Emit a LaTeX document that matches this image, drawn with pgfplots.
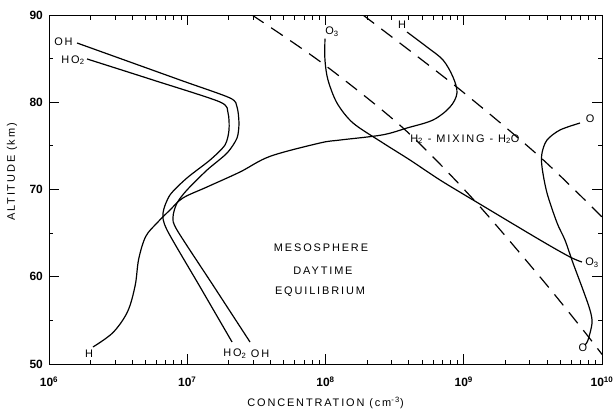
\documentclass[border=0pt]{standalone}
\usepackage{fontspec}
\setmainfont{Liberation Sans}
\newfontfamily\lsfont[LetterSpace=17]{Liberation Sans}
\usepackage{pgfplots}
\pgfplotsset{compat=1.18}
\newcommand{\lab}[1]{{\lsfont\fontsize{11}{13}\selectfont #1}}
\begin{document}
\begin{tikzpicture}
\useasboundingbox (-49bp,-46bp) rectangle (564bp,364bp);
\begin{axis}[
  at={(0,0)}, anchor=south west,
  scale only axis, width=553bp, height=349bp,
  xmode=log, xmin=1e6, xmax=1e10, ymin=50, ymax=90,
  xtick={1e6,1e7,1e8,1e9,1e10},
  xticklabels={10\textsuperscript{6},10\textsuperscript{7},10\textsuperscript{8},10\textsuperscript{9},10\textsuperscript{10}},
  ytick={50,60,70,80,90}, minor ytick={55,65,75,85},
  yticklabels={50,60,70,80,90},
  tick align=inside,
  major tick length=10bp, minor tick length=4.5bp,
  axis line style={line width=0.9pt},
  every tick/.style={black, line width=0.8pt},
  x tick label style={anchor=center, yshift=-18bp, font=\fontsize{12}{14}\selectfont\bfseries},
  y tick label style={anchor=east, inner sep=0pt, xshift=-6bp, font=\fontsize{12}{14}\selectfont\bfseries},
  xlabel={\lab{CONCENTRATION (cm\textsuperscript{-3})}},
  ylabel={\lab{ALTITUDE (km)}},
  xlabel style={at={(axis description cs:0.5,-0.112)}, anchor=center},
  ylabel style={at={(axis description cs:-0.067,0.55)}, anchor=center},
  clip=true,
]
% OH
\addplot[black, line width=1.2bp, smooth, tension=0.45] coordinates {
(1.596e6,86.79) (8.87e6,82.55) (2.037e7,80.49) (2.291e7,79.46) (2.366e7,77.62)
(2.291e7,75.90) (1.941e7,74.18) (1.390e7,72.23) (9.95e6,69.94) (8.43e6,68.45)
(7.89e6,66.85) (8.43e6,65.36) (1.549e7,58.94) (2.844e7,52.52)};
% HO2
\addplot[black, line width=1.2bp, smooth, tension=0.45] coordinates {
(1.884e6,84.96) (5.649e6,82.55) (1.726e7,80.03) (1.972e7,78.77) (2.004e7,76.82)
(1.875e7,75.10) (1.462e7,73.38) (9.95e6,71.32) (7.50e6,69.37) (6.68e6,67.31)
(7.14e6,65.36) (1.227e7,58.94) (2.109e7,52.52)};
% H
\addplot[black, line width=1.2bp, smooth, tension=0.55] coordinates {
(2.080e6,51.95) (2.90e6,53.6) (3.70e6,56.0) (4.20e6,59.0) (4.45e6,62.0)
(5.00e6,64.6) (6.039e6,66.16) (7.499e6,67.65) (9.311e6,69.03) (1.390e7,70.29)
(2.410e7,72.01) (3.972e7,73.80) (9.12e7,75.33) (1.274e8,75.67) (2.564e8,76.25)
(3.890e8,77.05) (5.998e8,77.97) (7.962e8,79.46) (8.93e8,81.06) (8.356e8,82.89)
(7.079e8,84.84) (5.420e8,86.33) (3.890e8,88.05)};
% O3
\addplot[black, line width=1.2bp, smooth, tension=0.5] coordinates {
(9.91e7,87.3) (9.91e7,84.84) (1.042e8,82.55) (1.211e8,79.91) (1.581e8,77.62)
(2.606e8,75.33) (4.083e8,73.38) (6.730e8,71.09) (1.167e9,68.80) (3.565e9,64.21)
(5.875e9,62.26) (7.161e9,61.69)};
% O
\addplot[black, line width=1.2bp, smooth, tension=0.5] coordinates {
(6.934e9,77.62) (4.966e9,76.82) (4.000e9,75.67) (3.681e9,74.18) (3.681e9,72.58)
(4.000e9,69.60) (4.732e9,66.16) (5.395e9,64.21) (6.166e9,61.58) (7.295e9,58.48)
(8.185e9,56.19) (8.472e9,54.70) (7.925e9,52.75) (7.534e9,52.18)};
% H2 mixing (dashed)
\addplot[black, line width=1.2bp, dash pattern=on 14bp off 9bp, smooth, tension=0.5] coordinates {
(2.938e7,90) (9.44e7,84.50) (3.639e8,77.05) (1.167e9,68.91) (3.565e9,59.97)
(7.295e9,53.90) (1e10,51.1)};
% H2O mixing (dashed)
\addplot[black, line width=1.2bp, dash pattern=on 14bp off 9bp, smooth, tension=0.5] coordinates {
(1.866e8,90) (9.08e8,81.63) (3.565e9,73.72) (1e10,66.85)};
% labels
\node at (rel axis cs:0.0262,0.923) {\lab{OH}};
\node at (rel axis cs:0.0434,0.871) {\lab{HO\textsubscript{2}}};
\node at (rel axis cs:0.0723,0.0287) {\lab{H}};
\node at (rel axis cs:0.336,0.0287) {\lab{HO\textsubscript{2}}};
\node at (rel axis cs:0.3816,0.0287) {\lab{OH}};
\node at (rel axis cs:0.5118,0.9513) {\lab{O\textsubscript{3}}};
\node at (rel axis cs:0.6383,0.9713) {\lab{H}};
\node at (rel axis cs:0.7520,0.6447) {\lab{H\textsubscript{2} - MIXING - H\textsubscript{2}O}};
\node at (rel axis cs:0.9783,0.702) {\lab{O}};
\node at (rel axis cs:0.982,0.2894) {\lab{O\textsubscript{3}}};
\node at (rel axis cs:0.9656,0.0458) {\lab{O}};
\node at (rel axis cs:0.4919,0.3324) {\lab{MESOSPHERE}};
\node at (rel axis cs:0.4955,0.2665) {\lab{DAYTIME}};
\node at (rel axis cs:0.490,0.2063) {\lab{EQUILIBRIUM}};
\end{axis}
\end{tikzpicture}
\end{document}
